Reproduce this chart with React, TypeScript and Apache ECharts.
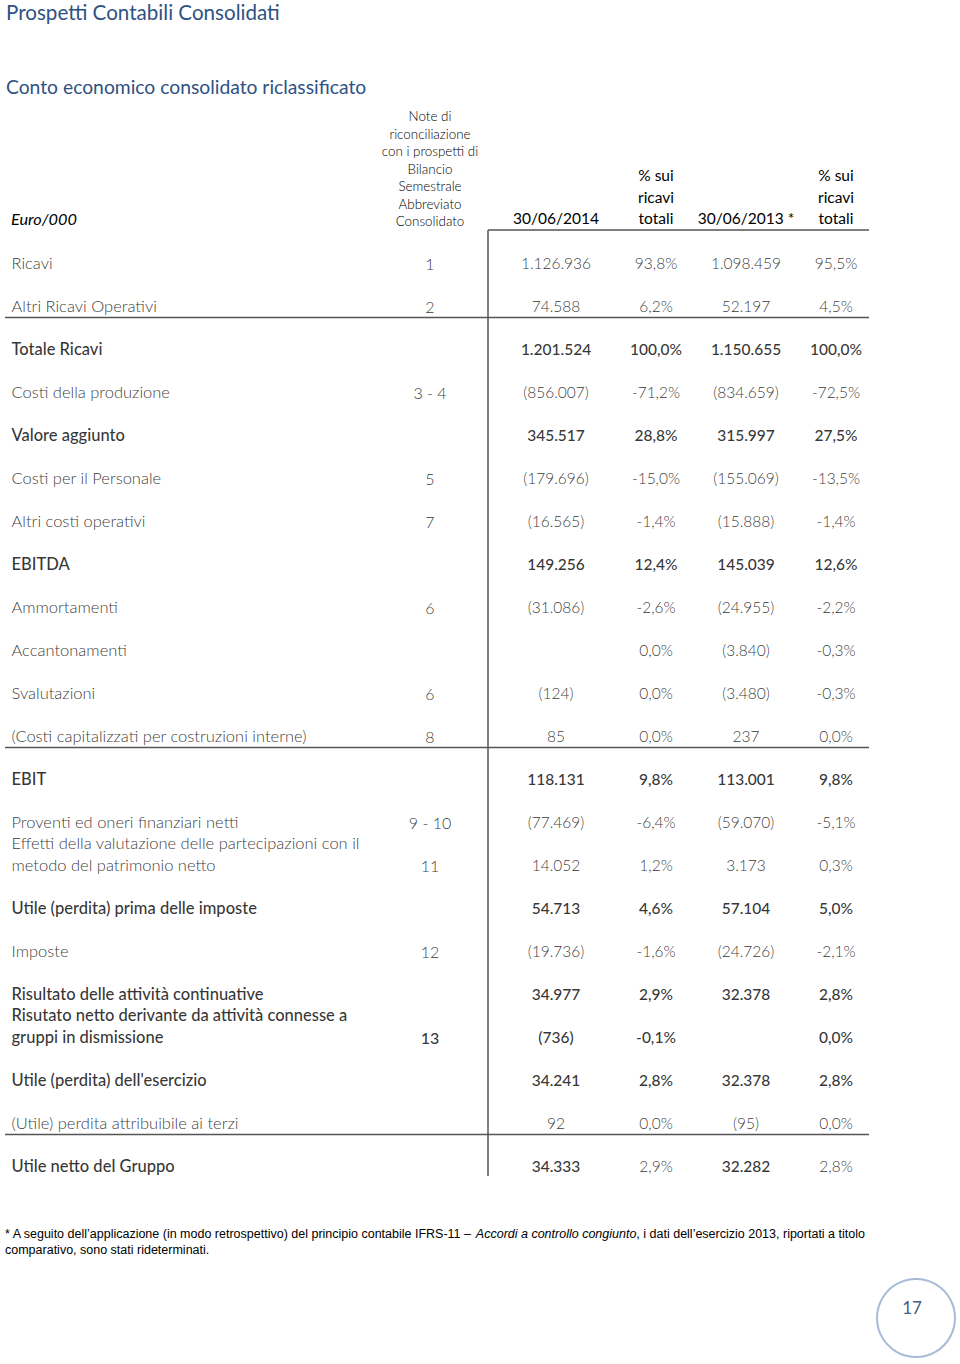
import React, { useEffect, useRef } from "react";
import * as echarts from "echarts";

// ---- data ----
const rowLabels = [
  "Ricavi",
  "Altri Ricavi Operativi",
  "Totale Ricavi",
  "Costi della produzione",
  "Valore aggiunto",
  "Costi per il Personale",
  "Altri costi operativi",
  "EBITDA",
  "Ammortamenti",
  "Accantonamenti",
  "Svalutazioni",
  "(Costi capitalizzati per costruzioni interne)",
  "EBIT",
  "Proventi ed oneri finanziari netti",
  "Effetti della valutazione delle partecipazioni con il\nmetodo del patrimonio netto",
  "Utile (perdita) prima delle imposte",
  "Imposte",
  "Risultato delle attività continuative",
  "Risutato netto derivante da attività connesse a\ngruppi in dismissione",
  "Utile (perdita) dell'esercizio",
  "(Utile) perdita attribuibile ai terzi",
  "Utile netto del Gruppo",
];
const noteRefs = ["1", "2", "", "3 - 4", "", "5", "7", "", "6", "", "6", "8", "", "9 - 10", "11", "", "12", "", "13", "", "", ""];
const values2014: (number | null)[] = [1126936, 74588, 1201524, -856007, 345517, -179696, -16565, 149256, -31086, null, -124, 85, 118131, -77469, 14052, 54713, -19736, 34977, -736, 34241, 92, 34333];
const pct2014: (number | null)[] = [93.8, 6.2, 100.0, -71.2, 28.8, -15.0, -1.4, 12.4, -2.6, 0.0, 0.0, 0.0, 9.8, -6.4, 1.2, 4.6, -1.6, 2.9, -0.1, 2.8, 0.0, 2.9];
const values2013: (number | null)[] = [1098459, 52197, 1150655, -834659, 315997, -155069, -15888, 145039, -24955, -3840, -3480, 237, 113001, -59070, 3173, 57104, -24726, 32378, null, 32378, -95, 32282];
const pct2013: (number | null)[] = [95.5, 4.5, 100.0, -72.5, 27.5, -13.5, -1.4, 12.6, -2.2, -0.3, -0.3, 0.0, 9.8, -5.1, 0.3, 5.0, -2.1, 2.8, 0.0, 2.8, 0.0, 2.8];
const strongRows = [2, 4, 7, 12, 15, 17, 18, 19, 21];
const lightPctRows = [21];
const headerNote = ["Note di", "riconciliazione", "con i prospetti di", "Bilancio", "Semestrale", "Abbreviato", "Consolidato"];
const headerCols = ["30/06/2014", "% sui\nricavi\ntotali", "30/06/2013 *", "% sui\nricavi\ntotali"];
const ruleAfterRows = [1, 11, 20];

// ---- layout (not data) ----
const FONT = "Lato, 'Open Sans', sans-serif";
const COL_X = { label: 11, note: 430, v14: 556, p14: 656, v13: 746, p13: 836 };
const ROW_TOP = 241.5;
const ROW_H = 43;
const LINE_H = 22;
const TABLE_L = 5;
const TABLE_R = 869;
const VLINE_X = 488;
const HEAD_LH = 21.5;

const groupThousands = (n: number) => String(n).replace(/\B(?=(\d{3})+(?!\d))/g, ".");
const fmtVal = (v: number | null) => (v === null ? "" : v < 0 ? `(${groupThousands(-v)})` : groupThousands(v));
const fmtPct = (v: number | null) => (v === null ? "" : `${v.toFixed(1).replace(".", ",")}%`);

export default function App() {
  const ref = useRef<HTMLDivElement>(null);
  useEffect(() => {
    if (!ref.current) return;
    const chart = echarts.init(ref.current, undefined, { renderer: "svg" });
    const rowIds = rowLabels.map((_, i) => `r${i}`);
    const isStrong = (i: number) => strongRows.includes(i);

    const mkSeries = (
      name: string,
      x: number,
      texts: string[],
      align: "left" | "center",
      size: number,
      weightFor: (i: number) => number
    ) => ({
      type: "scatter",
      name,
      symbolSize: 1,
      itemStyle: { color: "rgba(0,0,0,0)" },
      silent: true,
      data: texts.map((t, i) => {
        const lines = t.split("\n").length;
        const w = weightFor(i);
        return {
          value: [x, rowIds[i]],
          label: {
            show: t !== "",
            formatter: t,
            position: align === "left" ? "right" : "inside",
            distance: 0,
            align,
            offset: [0, -((lines - 1) * LINE_H) / 2],
            fontFamily: FONT,
            fontSize: size,
            lineHeight: LINE_H,
            fontWeight: w,
            color: "#000",
          },
        };
      }),
    });

    const strongW = (i: number) => (isStrong(i) ? 500 : 300);
    const pctW = (i: number) => (lightPctRows.includes(i) ? 300 : strongW(i));
    const series = [
      mkSeries("label", COL_X.label, rowLabels, "left", 16.5, strongW),
      mkSeries("note", COL_X.note, noteRefs, "center", 16, strongW),
      mkSeries("v14", COL_X.v14, values2014.map(fmtVal), "center", 15.5, strongW),
      mkSeries("p14", COL_X.p14, pct2014.map(fmtPct), "center", 15.5, pctW),
      mkSeries("v13", COL_X.v13, values2013.map(fmtVal), "center", 15.5, strongW),
      mkSeries("p13", COL_X.p13, pct2013.map(fmtPct), "center", 15.5, pctW),
    ];

    const lineStyle = { stroke: "#555", lineWidth: 1.5 };
    const footFont = "'Liberation Sans Narrow', 'Liberation Sans', Arial, sans-serif";
    const graphics: any[] = [
      { type: "text", x: 6, y: 12, style: { text: "Prospetti Contabili Consolidati", font: `400 20.6px ${FONT}`, fill: "#2e5283", textVerticalAlign: "middle" } },
      { type: "text", x: 6, y: 86, style: { text: "Conto economico consolidato riclassificato", font: `400 19.3px ${FONT}`, fill: "#2e5283", textVerticalAlign: "middle" } },
      { type: "text", x: 11, y: 218, style: { text: "Euro/000", font: `italic 400 16.3px ${FONT}`, fill: "#000", textVerticalAlign: "middle" } },
      ...headerNote.map((t, i) => ({
        type: "text",
        x: COL_X.note,
        y: 116 + i * 17.5,
        style: { text: t, font: `300 13.4px ${FONT}`, fill: "#000", textAlign: "center", textVerticalAlign: "middle" },
      })),
      ...headerCols.map((t, i) => {
        const xs = [COL_X.v14, COL_X.p14, COL_X.v13, COL_X.p13];
        return {
          type: "text",
          x: xs[i],
          y: 218 + HEAD_LH / 2,
          style: { text: t, font: `400 15.5px ${FONT}`, lineHeight: HEAD_LH, fill: "#000", textAlign: "center", textVerticalAlign: "bottom" },
        };
      }),
      { type: "line", shape: { x1: VLINE_X, y1: 230, x2: TABLE_R, y2: 230 }, style: lineStyle },
      { type: "line", shape: { x1: VLINE_X, y1: 230, x2: VLINE_X, y2: 1176 }, style: lineStyle },
      ...ruleAfterRows.map((r) => ({
        type: "line",
        shape: { x1: TABLE_L, y1: ROW_TOP + (r + 1) * ROW_H - 10, x2: TABLE_R, y2: ROW_TOP + (r + 1) * ROW_H - 10 },
        style: lineStyle,
      })),
      {
        type: "text",
        x: 5,
        y: 1242,
        style: {
          text: "{a|* A seguito dell\u2019applicazione (in modo retrospettivo) del principio contabile IFRS-11 \u2013 }{i|Accordi a controllo congiunto}{a|, i dati dell\u2019esercizio 2013, riportati a titolo}\n{a|comparativo, sono stati rideterminati.}",
          textVerticalAlign: "middle",
          rich: {
            a: { fontFamily: footFont, fontSize: 12.5, fill: "#000", lineHeight: 16 },
            i: { fontFamily: footFont, fontSize: 12.5, fontStyle: "italic", fill: "#000", lineHeight: 16 },
          },
        },
      },
      { type: "circle", shape: { cx: 916, cy: 1318, r: 39 }, style: { fill: "#fff", stroke: "#a7bbd6", lineWidth: 2 } },
      { type: "text", x: 912, y: 1307, style: { text: "17", font: `400 17px ${FONT}`, fill: "#3f6186", textAlign: "center", textVerticalAlign: "middle" } },
    ];

    chart.setOption({
      animation: false,
      backgroundColor: "#fff",
      grid: { left: 0, top: ROW_TOP, width: 960, height: ROW_H * rowLabels.length },
      xAxis: { type: "value", min: 0, max: 960, show: false },
      yAxis: { type: "category", data: rowIds, inverse: true, show: false },
      series,
      graphic: graphics,
    });
    return () => chart.dispose();
  }, []);
  return <div ref={ref} style={{ position: "absolute", left: 0, top: 0, width: 960, height: 1364 }} />;
}
